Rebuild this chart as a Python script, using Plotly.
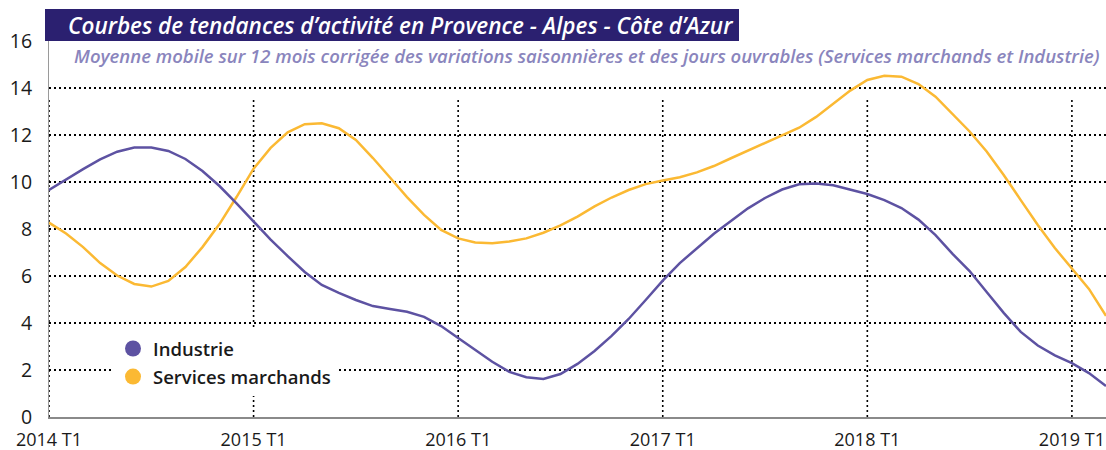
import plotly.graph_objects as go

# Monthly index from 2014 T1 (Jan 2014) to Mar 2019
months = list(range(63))
industrie = [9.66, 10.11, 10.55, 10.96, 11.29, 11.47, 11.47, 11.32, 10.98, 10.47, 9.83, 9.09,
             8.33, 7.55, 6.85, 6.17, 5.62, 5.28, 4.98, 4.72, 4.60, 4.48, 4.26, 3.87,
             3.36, 2.85, 2.35, 1.92, 1.69, 1.62, 1.83, 2.26, 2.81, 3.45, 4.17, 4.98,
             5.80, 6.55, 7.19, 7.80, 8.34, 8.88, 9.32, 9.68, 9.90, 9.94, 9.86, 9.69,
             9.49, 9.23, 8.89, 8.40, 7.74, 6.94, 6.21, 5.32, 4.43, 3.62, 3.04, 2.62,
             2.29, 1.87, 1.32]
services = [8.27, 7.81, 7.23, 6.55, 6.02, 5.66, 5.55, 5.79, 6.38, 7.23, 8.21, 9.36,
            10.57, 11.45, 12.11, 12.46, 12.50, 12.29, 11.79, 11.02, 10.19, 9.36, 8.60, 7.96,
            7.60, 7.43, 7.39, 7.47, 7.60, 7.84, 8.15, 8.53, 8.96, 9.34, 9.66, 9.91,
            10.06, 10.20, 10.41, 10.68, 11.01, 11.33, 11.67, 11.98, 12.31, 12.77, 13.32, 13.89,
            14.34, 14.52, 14.48, 14.17, 13.63, 12.91, 12.15, 11.30, 10.30, 9.23, 8.17, 7.19,
            6.32, 5.45, 4.30]
tick_months = [0, 12, 24, 36, 48, 60]
tick_labels = ["2014 T1", "2015 T1", "2016 T1", "2017 T1", "2018 T1", "2019 T1"]
y_ticks = [0, 2, 4, 6, 8, 10, 12, 14, 16]

title = "Courbes de tendances d\u2019activité en Provence - Alpes - Côte d\u2019Azur"
subtitle = ("Moyenne mobile sur 12 mois corrigée des variations saisonnières et des jours "
            "ouvrables (Services marchands et Industrie)")

PURPLE = "#5d52a2"
YELLOW = "#fbb933"
FONT = "Open Sans"

fig = go.Figure()
fig.add_trace(go.Scatter(x=months, y=services, mode="lines", line=dict(color=YELLOW, width=2.5),
                         showlegend=False, hoverinfo="skip"))
fig.add_trace(go.Scatter(x=months, y=industrie, mode="lines", line=dict(color=PURPLE, width=2.5),
                         showlegend=False, hoverinfo="skip"))
# legend entries (circles)
fig.add_trace(go.Scatter(x=[None], y=[None], mode="markers", name="Industrie",
                         marker=dict(color=PURPLE, size=18), legendgroup="a"))
fig.add_trace(go.Scatter(x=[None], y=[None], mode="markers", name="Services marchands",
                         marker=dict(color=YELLOW, size=18), legendgroup="b"))

# vertical dotted gridlines (start below the subtitle)
for m in tick_months:
    fig.add_shape(type="line", xref="x", yref="y", x0=m, x1=m, y0=0, y1=13.57,
                  line=dict(color="black", width=1.6, dash="2px,3px"), layer="below")

# title box
fig.add_shape(type="rect", xref="paper", yref="paper", x0=-4 / 1057, x1=(739 - 49) / 1057,
              y0=1.0, y1=1 + 32 / 376, fillcolor="#2b2070", line=dict(width=0), layer="above")
fig.add_annotation(xref="paper", yref="paper", x=(66 - 49) / 1057, y=1 + 15 / 376,
                   xanchor="left", yanchor="middle", showarrow=False, text=f"<i>{title}</i>",
                   font=dict(family=FONT, size=22.5, color="white", weight=600))
fig.add_annotation(xref="paper", yref="paper", x=(72 - 49) / 1057, y=(417 - 55) / 376,
                   xanchor="left", yanchor="middle", showarrow=False, text=f"<i>{subtitle}</i>",
                   font=dict(family=FONT, size=18.5, color="#8a85bd", weight=600))

fig.update_layout(
    width=1106, height=450,
    margin=dict(l=49, r=0, t=41, b=33),
    paper_bgcolor="white", plot_bgcolor="white",
    font=dict(family=FONT, color="#1a1a1a"),
    xaxis=dict(range=[0, 62], tickvals=tick_months, ticktext=tick_labels, showgrid=False,
               zeroline=False, showline=True, linecolor="#8a8a8a", linewidth=1.5,
               ticks="", tickfont=dict(size=18, color="#1a1a1a"), ticklabelstandoff=6,
               automargin=False),
    yaxis=dict(range=[0, 16], tickvals=y_ticks, showgrid=True, gridcolor="black", gridwidth=1.6,
               griddash="2px,3px", zeroline=False, showline=True, linecolor="#9a9a9a",
               linewidth=1, ticks="", tickfont=dict(size=19.5, color="#1a1a1a"),
               ticklabelstandoff=12, automargin=False),
    legend=dict(x=(113 - 49) / 1057, y=(417 - 330) / 376, xanchor="left", yanchor="top",
                bgcolor="white", font=dict(family=FONT, size=18.5, color="#1a1a1a", weight=600),
                tracegroupgap=1, itemwidth=30),
    hovermode=False,
)

fig.write_html("out.html")
